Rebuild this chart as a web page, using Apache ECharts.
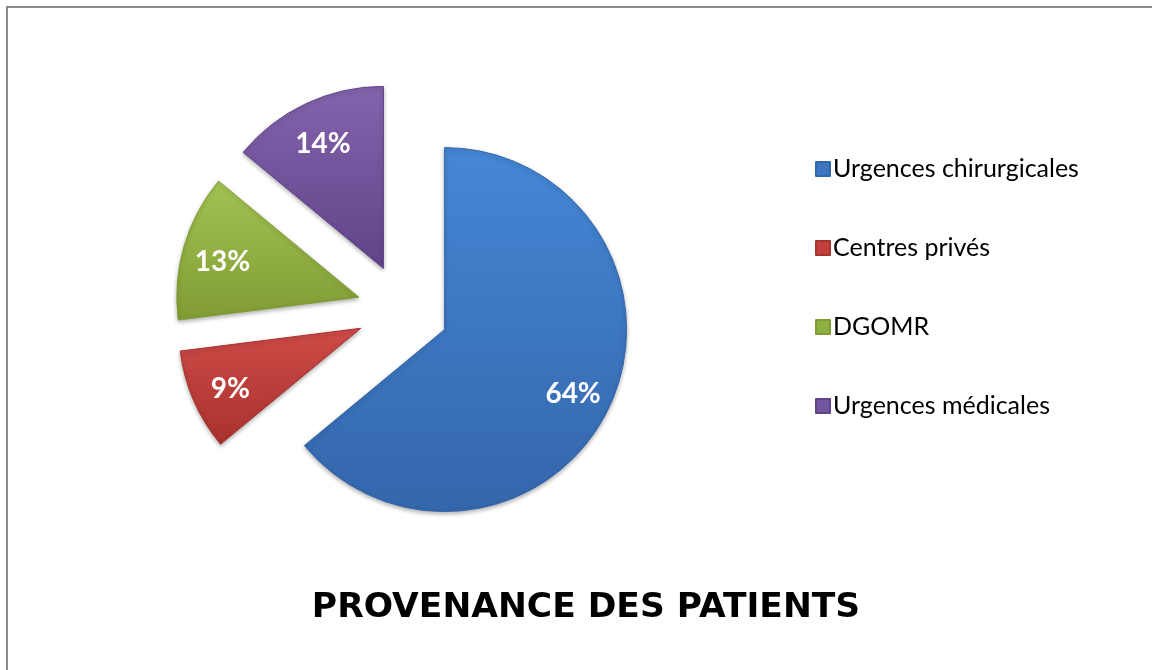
<!DOCTYPE html>
<html>
<head>
<meta charset="utf-8">
<script src="https://cdn.jsdelivr.net/npm/echarts@6/dist/echarts.min.js"></script>
<style>
  html, body { margin: 0; padding: 0; background: #fff; }
  #chart { width: 1152px; height: 670px; }
</style>
</head>
<body>
<div id="chart"></div>
<script>
// data
const categories = ['Urgences chirurgicales', 'Centres privés', 'DGOMR', 'Urgences médicales'];
const values = [64, 9, 13, 14];
const topColors = ['#4587d6', '#cf4b47', '#a4c353', '#8464ad'];
const bottomColors = ['#3466ab', '#a8322e', '#809c34', '#604389'];
const legendColors = ['#3d76c0', '#c0403c', '#90b043', '#7356a0'];

const chart = echarts.init(document.getElementById('chart'));

const grad = (i) => new echarts.graphic.LinearGradient(0, 0, 0, 1, [
  { offset: 0, color: topColors[i] },
  { offset: 1, color: bottomColors[i] }
]);

const pieData = categories.map((name, i) => ({
  name: name,
  value: values[i],
  selected: true,
  itemStyle: { color: grad(i), borderColor: bottomColors[i], borderWidth: 1 }
}));

const labelData = categories.map((name, i) => ({
  name: name,
  value: values[i],
  selected: true
}));

const options = {
  animation: false,
  graphic: [
    {
      type: 'rect',
      shape: { x: 7, y: 7, width: 1160, height: 680 },
      style: { fill: 'none', stroke: '#8c8c8c', lineWidth: 2 },
      silent: true
    }
  ],
  title: {
    text: 'PROVENANCE DES PATIENTS',
    left: 581,
    top: 586,
    textAlign: 'center',
    textStyle: {
      fontFamily: 'DejaVu Sans',
      fontWeight: 'bold',
      fontSize: 34.5,
      color: '#000'
    }
  },
  legend: {
    orient: 'vertical',
    left: 810,
    top: 151,
    icon: 'rect',
    itemWidth: 14,
    itemHeight: 14,
    itemGap: 53,
    selectedMode: false,
    textStyle: { fontFamily: 'Lato', fontSize: 25, color: '#000', lineHeight: 26, padding: [0, 0, 0, -2] },
    data: categories.map((name, i) => ({ name: name, itemStyle: { color: legendColors[i] } }))
  },
  series: [
    {
      name: 'Provenance',
      type: 'pie',
      center: [403, 310],
      radius: 182,
      startAngle: 90,
      clockwise: true,
      selectedMode: 'multiple',
      selectedOffset: 46,
      label: { show: false },
      labelLine: { show: false },
      emphasis: { disabled: true },
      itemStyle: {
        shadowColor: 'rgba(0,0,0,0.3)',
        shadowBlur: 4,
        shadowOffsetY: 2
      },
      data: pieData
    },
    {
      // transparent ring that only carries the percentage labels
      name: 'labels',
      type: 'pie',
      center: [403, 314],
      radius: [96, 182],
      startAngle: 90,
      clockwise: true,
      selectedMode: 'multiple',
      selectedOffset: 46,
      silent: true,
      itemStyle: { color: 'rgba(0,0,0,0)' },
      emphasis: { disabled: true },
      labelLine: { show: false },
      label: {
        show: true,
        position: 'inside',
        formatter: '{c}%',
        fontFamily: 'Lato',
        fontWeight: 'bold',
        fontSize: 28,
        color: '#fff'
      },
      data: labelData
    }
  ]
};

chart.setOption(options);
</script>
</body>
</html>
